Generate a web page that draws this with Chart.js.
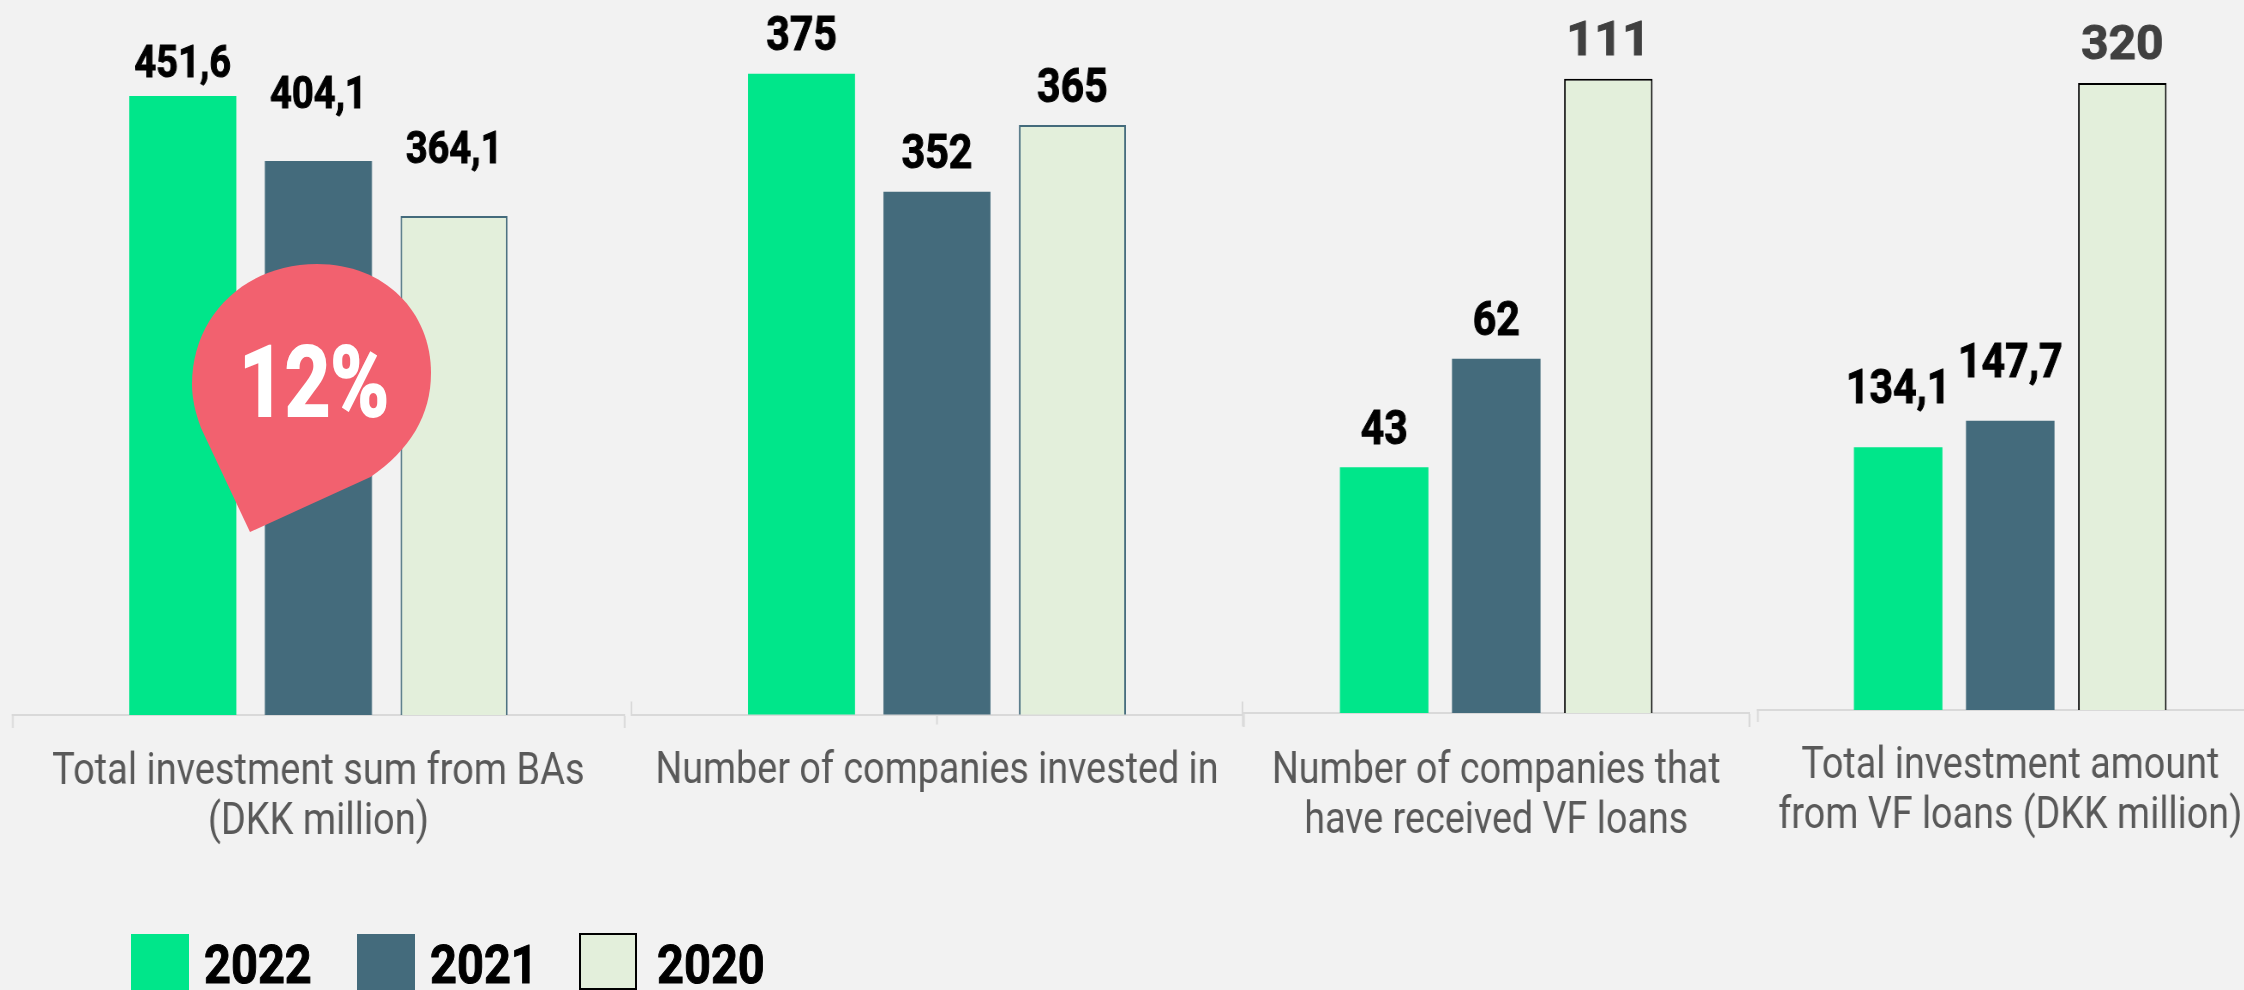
<!DOCTYPE html>
<html>
<head>
<meta charset="utf-8">
<script src="https://cdn.jsdelivr.net/npm/chart.js@4"></script>
<style>
html, body { margin: 0; padding: 0; background: #f2f2f2; width: 2244px; height: 990px; overflow: hidden; }
body { position: relative; font-family: Roboto, sans-serif; }
canvas { position: absolute; top: 0; transform-origin: 0 0; }
.swatch { position: absolute; top: 934px; width: 58px; height: 56px; box-sizing: border-box; }
.year { position: absolute; top: 0; left: 0; font: 700 54px Roboto, sans-serif; color: #000; -webkit-text-stroke: 1px #000; transform-origin: 0 0; line-height: 1; white-space: nowrap; }
#bubble { position: absolute; left: 0; top: 0; }
</style>
</head>
<body>
<canvas id="c1"></canvas>
<canvas id="c2"></canvas>
<canvas id="c3"></canvas>
<canvas id="c4"></canvas>

<svg id="bubble" width="2244" height="990">
  <path d="M250 532 L201 428 C195 412 192 398 192 384 C192 316 245 264 317 264 C385 264 431 312 431 373 C431 415 410 450 370.5 477 Z" fill="#f2616f"/>
  <text transform="translate(314,416) scale(0.81,1)" text-anchor="middle" fill="#fff" stroke="#fff" stroke-width="2" font-family="Roboto" font-weight="700" font-size="98">12%</text>
</svg>

<div id="legend"></div>

<script>
const years = ['2022', '2021', '2020'];
const yearColors = ['#00e68a', '#446b7c', '#e3efdb'];

const investmentLabel = ['Total investment sum from BAs', '(DKK million)'];
const investmentValues = [451.6, 404.1, 364.1];
const investmentText = ['451,6', '404,1', '364,1'];

const companiesLabel = ['Number of companies invested in'];
const companiesValues = [375, 352, 365];
const companiesText = ['375', '352', '365'];

const loanCompaniesLabel = ['Number of companies that', 'have received VF loans'];
const loanCompaniesValues = [43, 62, 111];
const loanCompaniesText = ['43', '62', '111'];

const loanAmountLabel = ['Total investment amount', 'from VF loans (DKK million)'];
const loanAmountValues = [134.1, 147.7, 320];
const loanAmountText = ['134,1', '147,7', '320'];

const pageHeight = 900;
const edgePad = 4;

// bar labels, the gap above each bar differs in the original
const barLabels = {
    id: 'barLabels',
    afterDatasetsDraw(chart, args, opts) {
        const ctx = chart.ctx;
        ctx.textAlign = 'center';
        ctx.textBaseline = 'alphabetic';
        ctx.font = '700 ' + opts.size + 'px Roboto';
        ctx.lineWidth = 1;
        chart.data.datasets.forEach((ds, i) => {
            const bar = chart.getDatasetMeta(i).data[0];
            ctx.save();
            ctx.translate(bar.x, bar.y - opts.gaps[i]);
            ctx.scale(opts.stretch[i], 1);
            ctx.fillStyle = opts.colors[i];
            ctx.strokeStyle = opts.colors[i];
            ctx.fillText(opts.text[i], 0, 0);
            ctx.strokeText(opts.text[i], 0, 0);
            ctx.restore();
        });
    }
};

// the second panel has odd little ticks that the axis can't give
const extraTicks = {
    id: 'extraTicks',
    beforeDatasetsDraw(chart, args, opts) {
        const ctx = chart.ctx;
        const area = chart.chartArea;
        ctx.save();
        ctx.strokeStyle = '#d9d9d9';
        ctx.lineWidth = 2;
        (opts.marks || []).forEach(m => {
            const x = area.left + (area.right - area.left) * m[0];
            ctx.beginPath();
            ctx.moveTo(x, area.bottom + m[1]);
            ctx.lineTo(x, area.bottom + m[2]);
            ctx.stroke();
        });
        ctx.restore();
    }
};

function drawPanel(p) {
    const canvas = document.getElementById(p.id);
    canvas.width = Math.round(p.axisWidth / p.squeeze + edgePad * 2);
    canvas.height = pageHeight;
    canvas.style.left = (p.axisLeft - edgePad * p.squeeze) + 'px';
    canvas.style.transform = 'scaleX(' + p.squeeze + ')';

    new Chart(canvas, {
        type: 'bar',
        data: {
            labels: [p.label],
            datasets: years.map((y, i) => ({
                label: y,
                data: [p.values[i]],
                backgroundColor: yearColors[i],
                borderColor: i === 2 ? p.lightBorder : yearColors[i],
                borderWidth: i === 2 ? 2 : 0,
                borderSkipped: 'bottom',
                categoryPercentage: 0.665,
                barPercentage: 0.79
            }))
        },
        options: {
            responsive: false,
            animation: false,
            devicePixelRatio: 1,
            layout: { padding: { left: edgePad, right: edgePad, top: 0, bottom: 0 } },
            plugins: {
                legend: { display: false },
                tooltip: { enabled: false },
                barLabels: { text: p.text, gaps: p.gaps, size: p.labelSize, colors: p.labelColors, stretch: p.stretch },
                extraTicks: { marks: p.marks }
            },
            scales: {
                y: { display: false, min: p.yMin, max: p.yMax },
                x: {
                    afterFit(scale) { scale.height = pageHeight - p.baseline; },
                    border: { color: '#d9d9d9', width: 2 },
                    grid: {
                        offset: true,
                        drawOnChartArea: false,
                        tickLength: p.tickLength,
                        tickWidth: 2,
                        tickColor: c => (p.hideLeftTick && c.index === 0) ? 'rgba(0,0,0,0)' : '#d9d9d9'
                    },
                    ticks: {
                        color: '#595959',
                        font: { family: 'Roboto', size: p.tickSize, lineHeight: 50 / p.tickSize },
                        padding: p.tickPad,
                        maxRotation: 0,
                        autoSkip: false
                    }
                }
            }
        },
        plugins: [barLabels, extraTicks]
    });
}

const black3 = ['#000', '#000', '#000'];

drawPanel({
    id: 'c1', axisLeft: 12, axisWidth: 612, squeeze: 0.863, baseline: 715, yMin: 0, yMax: 521.6,
    label: investmentLabel, values: investmentValues, text: investmentText,
    gaps: [19, 53, 52.5], labelSize: 45, labelColors: black3, stretch: [0.98, 0.98, 0.98], lightBorder: '#446b7c',
    tickSize: 44, tickPad: 20, tickLength: 13
});
drawPanel({
    id: 'c2', axisLeft: 631, axisWidth: 611, squeeze: 0.857, baseline: 714.5, yMin: 250, yMax: 389.4,
    label: companiesLabel, values: companiesValues, text: companiesText,
    gaps: [24, 24, 23.5], labelSize: 49, labelColors: black3, stretch: [0.98, 0.98, 0.98], lightBorder: '#446b7c',
    tickSize: 44, tickPad: 20, tickLength: 12, hideLeftTick: true,
    marks: [[0, -13, 0], [0.5, 0, 10], [1, -13, 0]]
});
drawPanel({
    id: 'c3', axisLeft: 1243, axisWidth: 506, squeeze: 0.857, baseline: 713, yMin: 0, yMax: 124.8,
    label: loanCompaniesLabel, values: loanCompaniesValues, text: loanCompaniesText,
    gaps: [23, 24, 24], labelSize: 49, labelColors: ['#000', '#000', '#404040'], stretch: [0.98, 0.98, 1.16], lightBorder: '#000',
    tickSize: 44, tickPad: 20, tickLength: 14
});
drawPanel({
    id: 'c4', axisLeft: 1757, axisWidth: 506, squeeze: 0.857, baseline: 710, yMin: 0, yMax: 362.4,
    label: loanAmountLabel, values: loanAmountValues, text: loanAmountText,
    gaps: [44, 44, 24], labelSize: 49, labelColors: ['#000', '#000', '#404040'], stretch: [0.98, 0.98, 1.14], lightBorder: '#000',
    tickSize: 44, tickPad: 20, tickLength: 12
});

// legend
const legendBox = document.getElementById('legend');
const swatchLeft = [131, 357, 579];
const textLeft = [204, 430, 657];
years.forEach((y, i) => {
    const s = document.createElement('div');
    s.className = 'swatch';
    s.style.left = swatchLeft[i] + 'px';
    s.style.background = yearColors[i];
    if (i === 2) { s.style.border = '2px solid #000'; s.style.top = '933px'; s.style.height = '57px'; }
    legendBox.appendChild(s);
    const t = document.createElement('div');
    t.className = 'year';
    t.textContent = y;
    t.style.transform = 'translate(' + textLeft[i] + 'px, 938px) scaleX(0.87)';
    legendBox.appendChild(t);
});
</script>
</body>
</html>
